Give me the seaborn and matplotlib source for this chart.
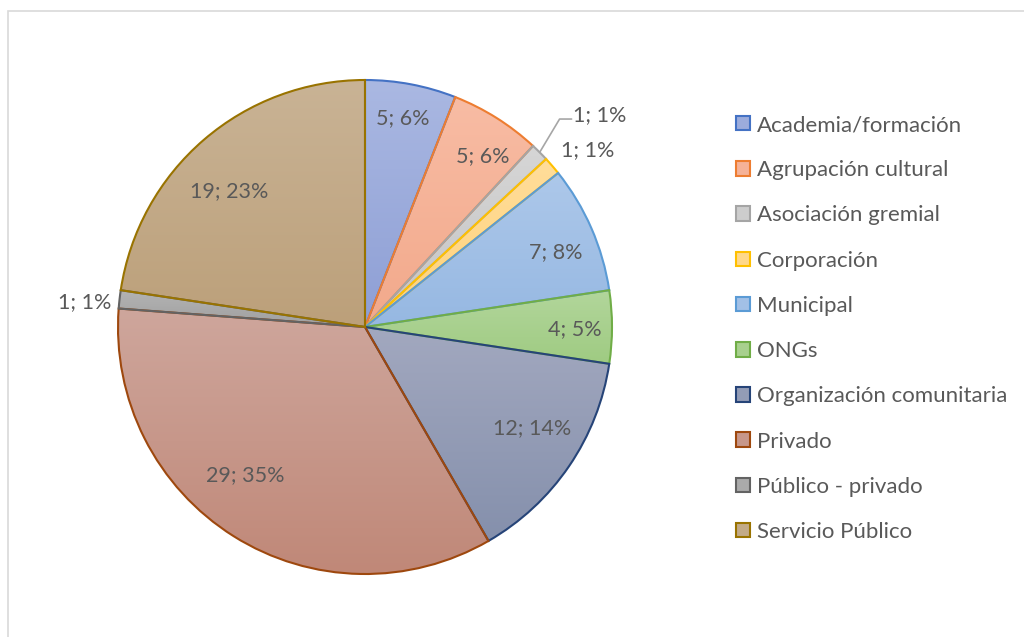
import matplotlib
matplotlib.use("Agg")
import matplotlib.pyplot as plt
import matplotlib.colors as mcolors
import seaborn as sns
import numpy as np
from matplotlib.patches import Rectangle, Patch

# datos
categorias = ['Academia/formación', 'Agrupación cultural', 'Asociación gremial',
              'Corporación', 'Municipal', 'ONGs', 'Organización comunitaria',
              'Privado', 'Público - privado', 'Servicio Público']
valores = [5, 5, 1, 1, 7, 4, 12, 29, 1, 19]

# degradado de cada porcion (arriba -> abajo) y color del borde
claros = ['#AAB8E2', '#F8BCA4', '#D6D6D6', '#FFDD9A', '#ADC8EA',
          '#B2D69B', '#A2A8BF', '#CEA69C', '#B3B3B3', '#C9B395']
oscuros = ['#8E9FD5', '#F2A98B', '#C4C4C4', '#FFD27A', '#96B8E2',
           '#9FCB82', '#8590AC', '#C08878', '#A0A0A0', '#BCA07A']
bordes = ['#4472C4', '#ED7D31', '#A5A5A5', '#FFC000', '#5B9BD5',
          '#70AD47', '#264478', '#9E480E', '#636363', '#997300']

sns.set_theme(style="white")
plt.rcParams['font.family'] = ['Lato', 'DejaVu Sans']

fig = plt.figure(figsize=(10.24, 6.37), dpi=100)
ax = fig.add_axes([0, 0, 1, 1])

cx, cy, r = 365, 637 - 327, 247
wedges, _ = ax.pie(valores, colors=claros, startangle=90, counterclock=False,
                   center=(cx, cy), radius=r,
                   wedgeprops=dict(linewidth=1.5))

# relleno en degradado vertical recortado a cada porcion
for w, c1, c2, b in zip(wedges, claros, oscuros, bordes):
    w.set_edgecolor(b)
    w.set_facecolor('none')
    w.set_zorder(3)
    bb = w.get_path().get_extents()
    t = np.linspace(0, 1, 64)[:, None, None]
    grad = (1 - t) * np.array(mcolors.to_rgb(c1)) + t * np.array(mcolors.to_rgb(c2))
    im = ax.imshow(grad, extent=(bb.x0, bb.x1, bb.y0, bb.y1), origin='upper',
                   aspect='auto', interpolation='bilinear', zorder=2)
    im.set_clip_path(w)

ax.set_xlim(0, 1024)
ax.set_ylim(0, 637)
ax.set_aspect('equal')
ax.axis('off')

# etiquetas "valor; porcentaje"
total = sum(valores)
dist = [0.86, 0.84, 1.28, 1.15, 0.83, 0.85, 0.79, 0.77, 1.03, 0.78]
giro = [-0.5, 2.3, 2.9, 2.3, 2.2, 0.5, -3, 6.7, -0.7, -4.3]
acum = 0
for i, v in enumerate(valores):
    medio = (acum + v / 2) / total * 360
    acum += v
    a = np.deg2rad(medio + giro[i])
    x = cx + dist[i] * r * np.sin(a)
    y = cy + dist[i] * r * np.cos(a)
    txt = f"{v}; {round(v / total * 100)}%"
    ha = 'right' if categorias[i] == 'Público - privado' else 'center'
    ax.text(x, y, txt, ha=ha, va='center', fontsize=15.5, color='#595959', zorder=5)
    if categorias[i] == 'Asociación gremial':
        # linea guia desde el borde de la porcion hasta la etiqueta
        am = np.deg2rad(medio)
        x0, y0 = cx + r * np.sin(am), cy + r * np.cos(am)
        ax.plot([x0, x - 40, x - 28], [y0, y - 4, y - 4],
                color='#A6A6A6', lw=1.2, zorder=4)

handles = [Patch(facecolor=mcolors.to_hex((np.array(mcolors.to_rgb(c1)) + np.array(mcolors.to_rgb(c2))) / 2),
                 edgecolor=b, linewidth=1.5)
           for c1, c2, b in zip(claros, oscuros, bordes)]
ax.legend(handles, categorias, loc='upper left', bbox_to_anchor=(736 / 1024, 1 - 115 / 637),
          bbox_transform=fig.transFigure, frameon=False, fontsize=16,
          labelcolor='#595959', handlelength=0.63, handleheight=0.63,
          handletextpad=0.32, labelspacing=1.135, borderpad=0, borderaxespad=0)

fig.patches.append(Rectangle((8 / 1024, -0.1), 1.2, 1.1 - 11 / 637,
                             transform=fig.transFigure, fill=False,
                             edgecolor='#D9D9D9', linewidth=1.2))

fig.savefig('out.png', dpi=100, facecolor='white')
